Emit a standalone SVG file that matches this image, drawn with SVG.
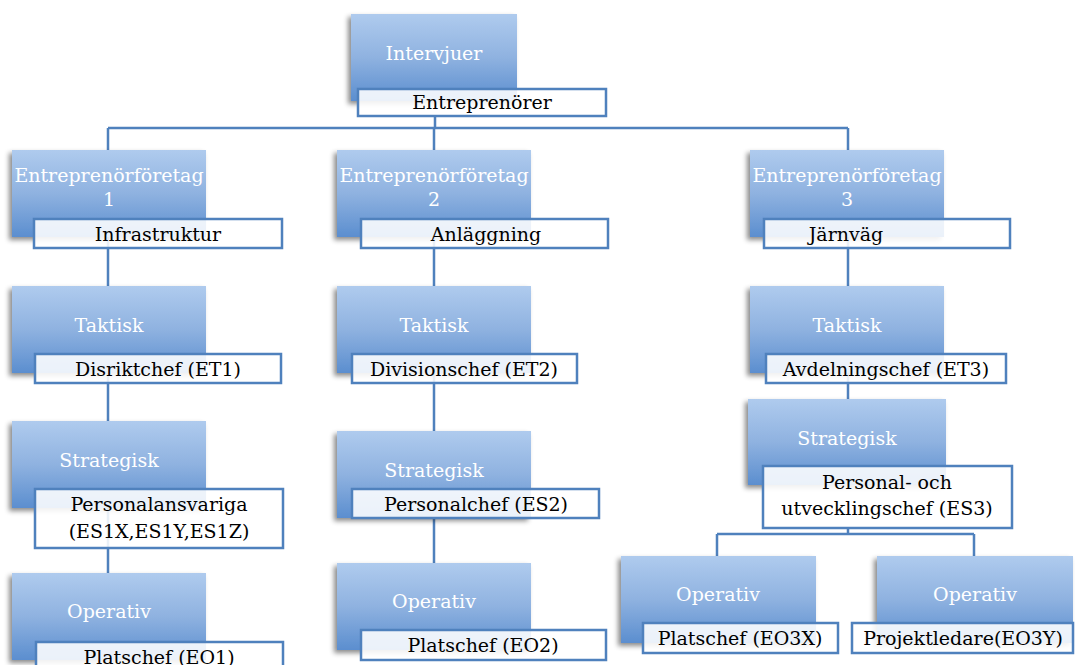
<svg xmlns="http://www.w3.org/2000/svg" width="1075" height="665" viewBox="0 0 1075 665">
<defs>
<linearGradient id="bg" x1="0" y1="0" x2="0" y2="1">
<stop offset="0" stop-color="#afcbee"/>
<stop offset="0.5" stop-color="#8fb2e0"/>
<stop offset="1" stop-color="#5b8ecf"/>
</linearGradient>
<filter id="sh" x="-10%" y="-10%" width="120%" height="125%">
<feDropShadow dx="-3" dy="3" stdDeviation="2.5" flood-color="#000" flood-opacity="0.45"/>
</filter>
<style>
.box{fill:url(#bg);filter:url(#sh)}
.lab{fill:#ffffff;fill-opacity:0.88;stroke:#4f81bd;stroke-width:2.5}
text{font-family:'DejaVu Serif','Liberation Serif',serif;font-size:19px;text-anchor:middle}
.bt{fill:#ffffff}
.lt{fill:#000000}
.con{fill:none;stroke:#4f81bd;stroke-width:2.5}
</style>
</defs>
<rect width="1075" height="665" fill="#ffffff"/>
<g id="connectors" class="con">
<path d="M435 116V128M108 128H848M108 128V573M434 128V563M848 128V399M848 528V534M717 534H974M717 534V556M974 534V556"/>
</g>
<g id="n-intervjuer">
<rect class="box" x="351" y="14" width="166" height="87"/>
<text class="bt" x="434" y="60">Intervjuer</text>
<rect class="lab" x="358" y="89" width="248" height="27"/>
<text class="lt" x="482" y="109">Entreprenörer</text>
</g>
<g id="n-ef1">
<rect class="box" x="12" y="150" width="194" height="87"/>
<text class="bt" x="109" y="182">Entreprenörföretag</text>
<text class="bt" x="109" y="206">1</text>
<rect class="lab" x="34" y="219" width="248" height="29"/>
<text class="lt" x="158" y="241">Infrastruktur</text>
</g>
<g id="n-ef2">
<rect class="box" x="337" y="150" width="194" height="87"/>
<text class="bt" x="434" y="182">Entreprenörföretag</text>
<text class="bt" x="434" y="206">2</text>
<rect class="lab" x="361" y="219" width="247" height="29"/>
<text class="lt" x="486" y="241">Anläggning</text>
</g>
<g id="n-ef3">
<rect class="box" x="750" y="150" width="194" height="87"/>
<text class="bt" x="847" y="182">Entreprenörföretag</text>
<text class="bt" x="847" y="206">3</text>
<rect class="lab" x="764" y="219" width="246" height="29"/>
<text class="lt" x="846" y="241">Järnväg</text>
</g>
<g id="n-et1">
<rect class="box" x="12" y="286" width="194" height="87"/>
<text class="bt" x="109" y="332">Taktisk</text>
<rect class="lab" x="35" y="354" width="246" height="29"/>
<text class="lt" x="158" y="376">Disriktchef (ET1)</text>
</g>
<g id="n-et2">
<rect class="box" x="337" y="286" width="194" height="87"/>
<text class="bt" x="434" y="332">Taktisk</text>
<rect class="lab" x="352" y="354" width="225" height="29"/>
<text class="lt" x="464" y="376">Divisionschef (ET2)</text>
</g>
<g id="n-et3">
<rect class="box" x="750" y="286" width="194" height="87"/>
<text class="bt" x="847" y="332">Taktisk</text>
<rect class="lab" x="766" y="354" width="240" height="29"/>
<text class="lt" x="886" y="376">Avdelningschef (ET3)</text>
</g>
<g id="n-es1">
<rect class="box" x="12" y="421" width="194" height="87"/>
<text class="bt" x="109" y="467">Strategisk</text>
<rect class="lab" x="35" y="489" width="248" height="59"/>
<text class="lt" x="159" y="511">Personalansvariga</text>
<text class="lt" x="159" y="538">(ES1X,ES1Y,ES1Z)</text>
</g>
<g id="n-es2">
<rect class="box" x="337" y="431" width="194" height="87"/>
<text class="bt" x="434" y="477">Strategisk</text>
<rect class="lab" x="352" y="489" width="247" height="29"/>
<text class="lt" x="476" y="511">Personalchef (ES2)</text>
</g>
<g id="n-es3">
<rect class="box" x="748" y="399" width="198" height="86"/>
<text class="bt" x="847" y="445">Strategisk</text>
<rect class="lab" x="763" y="466" width="249" height="62"/>
<text class="lt" x="887" y="489">Personal- och</text>
<text class="lt" x="887" y="515">utvecklingschef (ES3)</text>
</g>
<g id="n-eo1">
<rect class="box" x="12" y="573" width="194" height="87"/>
<text class="bt" x="109" y="618">Operativ</text>
<rect class="lab" x="36" y="642" width="247" height="30"/>
<text class="lt" x="159" y="664">Platschef (EO1)</text>
</g>
<g id="n-eo2">
<rect class="box" x="337" y="563" width="194" height="87"/>
<text class="bt" x="434" y="608">Operativ</text>
<rect class="lab" x="361" y="630" width="245" height="30"/>
<text class="lt" x="483" y="652">Platschef (EO2)</text>
</g>
<g id="n-eo3x">
<rect class="box" x="621" y="556" width="195" height="87"/>
<text class="bt" x="718" y="601">Operativ</text>
<rect class="lab" x="643" y="623" width="195" height="30"/>
<text class="lt" x="740" y="645">Platschef (EO3X)</text>
</g>
<g id="n-eo3y">
<rect class="box" x="877" y="556" width="196" height="87"/>
<text class="bt" x="975" y="601">Operativ</text>
<rect class="lab" x="852" y="623" width="221" height="30"/>
<text class="lt" x="963" y="645">Projektledare(EO3Y)</text>
</g>
</svg>
